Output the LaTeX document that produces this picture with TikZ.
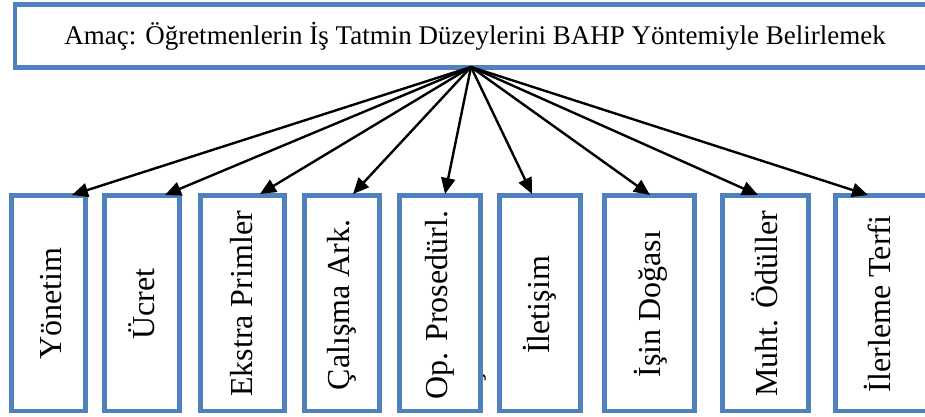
\documentclass[tikz,border=0pt]{standalone}
\usepackage{fontspec}
\setmainfont{Liberation Serif}
\usetikzlibrary{arrows.meta}
\definecolor{boxblue}{RGB}{79,129,189}
\tikzset{
  frame/.style={draw=boxblue, line width=4.5pt, fill=white, inner sep=0pt, outer sep=0pt},
  topbox/.style={frame, minimum width=920pt, minimum height=63pt},
  factor/.style={frame, minimum height=215.5pt},
  vtext/.style={rotate=90, inner sep=0pt, font=\fontsize{32}{36}\selectfont},
  arr/.style={line width=2.4pt, -{Triangle[length=16pt,width=14pt]}}
}
\begin{document}
\begin{tikzpicture}[x=1pt,y=-1pt]
\useasboundingbox (0,0) rectangle (925,417);
\clip (0,0) rectangle (925,417);
% top goal box
\node[topbox] (top) at (475,36) {};
\node[font=\fontsize{27}{32}\selectfont, inner sep=0pt] (goal) at (475,36) {Amaç: Öğretmenlerin İş Tatmin Düzeylerini BAHP Yöntemiyle Belirlemek};
\coordinate (src) at (471,67);
% stray glyph fragment
\node[vtext, anchor=base] (frag) at (479,377) {ş};
% factor boxes
\node[factor, minimum width=74pt] (b1) at (48.5,303.25) {};
\node[factor, minimum width=75pt] (b2) at (142,303.25) {};
\node[factor, minimum width=84pt] (b3) at (242.5,303.25) {};
\node[factor, minimum width=75pt] (b4) at (342,303.25) {};
\node[factor, minimum width=81pt] (b5) at (440,303.25) {};
\node[factor, minimum width=81pt] (b6) at (540,303.25) {};
\node[factor, minimum width=90pt] (b7) at (649.5,303.25) {};
\node[factor, minimum width=86pt] (b8) at (765.5,303.25) {};
\node[factor, minimum width=99.5pt] (b9) at (885.25,303.25) {};
% labels
\node[vtext] (t1) at (51,304) {Yönetim};
\node[vtext] (t2) at (142,304) {Ücret};
\node[vtext] (t3) at (242,304) {Ekstra Primler};
\node[vtext] (t4) at (342,305) {Çalışma Ark.};
\node[vtext] (t5) at (440,305) {Op. Prosedürl.};
\node[vtext] (t6) at (540,305) {İletişim};
\node[vtext] (t7) at (651,304) {İşin Doğası};
\node[vtext] (t8) at (765,304) {Muht. Ödüller};
\node[vtext] (t9) at (877,304) {İlerleme Terfi};
% arrow end points on the box tops
\coordinate (e1) at (72,195);
\coordinate (e2) at (165,195);
\coordinate (e3) at (260,194);
\coordinate (e4) at (353,194);
\coordinate (e5) at (445,194);
\coordinate (e6) at (532,194);
\coordinate (e7) at (650,195);
\coordinate (e8) at (758,195);
\coordinate (e9) at (868,195);
\foreach \i in {1,...,9}{\draw[arr] (src) -- (e\i);}
\end{tikzpicture}
\end{document}
